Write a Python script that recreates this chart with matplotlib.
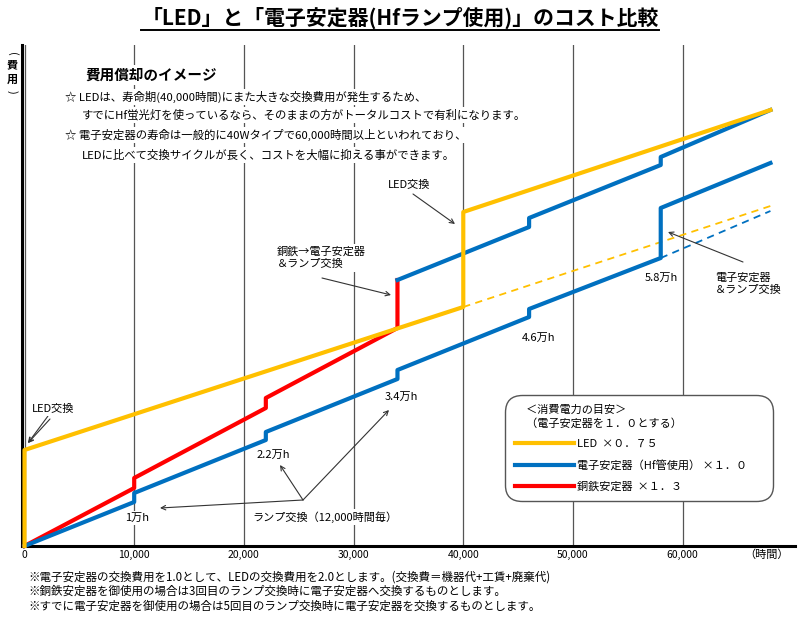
import matplotlib
matplotlib.use('Agg')
import matplotlib.pyplot as plt
from matplotlib.lines import Line2D

plt.rcParams['font.family'] = ['Noto Sans CJK JP', 'DejaVu Sans']

W, H = 800, 626

# operating hours vs. accumulated cost (relative units, no scale shown)
led_hours = [0, 0, 40000, 40000, 68000]
led_cost = [0, 96, 239, 334, 436]
led_cont_hours = [40000, 68000]
led_cont_cost = [239, 340]

hf_hours = [0, 10000, 10000, 22000, 22000, 34000, 34000, 46000, 46000, 58000, 58000, 68000]
hf_cost = [0, 44, 53, 106, 114, 167, 176, 229, 237, 288, 338, 383]
hf_cont_hours = [58000, 68000]
hf_cont_cost = [288, 335]

cu_hours = [0, 10000, 10000, 22000, 22000, 34000, 34000]
cu_cost = [0, 58, 68, 138, 148, 218, 266]
cu2hf_hours = [34000, 46000, 46000, 58000, 58000, 68000]
cu2hf_cost = [266, 319, 328, 381, 389, 436]

tick_hours = [0, 10000, 20000, 30000, 40000, 50000, 60000]
legend_labels = ['LED  ×０．７５', '電子安定器（Hf管使用） ×１．０', '銅鉄安定器  ×１．３']

c_led = '#FFC000'
c_hf = '#0070C0'
c_cu = '#FF0000'

fig = plt.figure(figsize=(W / 100, H / 100), dpi=100)
ax = fig.add_axes([22 / W, 80 / H, 773 / W, 501 / H])
ax.set_xlim(-228, 70240)
ax.set_ylim(0, 501)


def fp(x, y):
    # reference pixel position -> figure pixels
    return (x, H - y)


# dashed continuations first (behind)
ax.plot(led_cont_hours, led_cont_cost, color=c_led, lw=1.3, ls=(0, (4, 3)), zorder=3)
ax.plot(hf_cont_hours, hf_cont_cost, color=c_hf, lw=1.3, ls=(0, (4, 3)), zorder=3)

l_cu, = ax.plot(cu_hours, cu_cost, color=c_cu, lw=3, zorder=4, clip_on=False)
ax.plot(cu2hf_hours, cu2hf_cost, color=c_hf, lw=3, zorder=4, clip_on=False)
l_hf, = ax.plot(hf_hours, hf_cost, color=c_hf, lw=3, zorder=4, clip_on=False)
l_led, = ax.plot(led_hours, led_cost, color=c_led, lw=3, zorder=5, clip_on=False)

# axes styling
for s in ['top', 'right']:
    ax.spines[s].set_visible(False)
ax.spines['left'].set_linewidth(2.2)
ax.spines['bottom'].set_linewidth(2.2)
ax.set_yticks([])
ax.set_xticks(tick_hours)
ax.set_xticklabels([f'{v:,}' for v in tick_hours])
ax.tick_params(axis='x', length=0, pad=3, labelsize=7.5)
ax.grid(axis='x', color='#555555', lw=0.9)
ax.set_axisbelow(True)

fig.text(767 / W, 1 - 555 / H, '（時間）', fontsize=8, ha='center', va='center')
# vertical y label: （費用）
fig.text(12 / W, 1 - 54 / H, '(', fontsize=8, rotation=-90, ha='center', va='center')
fig.text(12 / W, 1 - 72 / H, '費\n用', fontsize=8, weight='bold',
         ha='center', va='center', linespacing=1.1)
fig.text(12 / W, 1 - 92 / H, ')', fontsize=8, rotation=-90, ha='center', va='center')

# title with underline
title = fig.text(0.5, 1 - 18 / H, '「LED」と「電子安定器(Hfランプ使用)」のコスト比較',
                 fontsize=15, weight='bold', ha='center', va='center')
fig.canvas.draw()
bb = title.get_window_extent()
fig.add_artist(Line2D([bb.x0 / W, bb.x1 / W], [(bb.y0 - 1) / H, (bb.y0 - 1) / H],
                      color='black', lw=1.4))

# explanation block
wbox = dict(facecolor='white', edgecolor='none', pad=1.5)
fig.text(85 / W, 1 - 75 / H, '費用償却のイメージ', fontsize=10.5, weight='bold',
         va='center', bbox=wbox, zorder=6)
block = [
    (65, 97, '☆ LEDは、寿命期(40,000時間)にまた大きな交換費用が発生するため、'),
    (82, 115, 'すでにHf蛍光灯を使っているなら、そのままの方がトータルコストで有利になります。'),
    (65, 135, '☆ 電子安定器の寿命は一般的に40Wタイプで60,000時間以上といわれており、'),
    (82, 155, 'LEDに比べて交換サイクルが長く、コストを大幅に抑える事ができます。'),
]
for x, y, t in block:
    fig.text(x / W, 1 - y / H, t, fontsize=8.2, va='center', bbox=wbox, zorder=6)

# annotations
arrow = dict(arrowstyle='->', color='#333333', lw=0.8, shrinkA=0, shrinkB=0)
tkw = dict(xycoords='figure pixels', textcoords='figure pixels', fontsize=8,
           va='center', zorder=7)

ax.annotate('LED交換', xy=fp(28, 443), xytext=fp(32, 409), arrowprops=arrow, bbox=wbox, **tkw)
ax.annotate('', xy=fp(28, 443), xytext=fp(50, 419), arrowprops=arrow, **tkw)

for x, y, t in [(125, 518, '1万h'), (257, 455, '2.2万h'), (385, 397, '3.4万h'),
                (522, 338, '4.6万h'), (645, 278, '5.8万h')]:
    fig.text(x / W, 1 - y / H, t, fontsize=8, va='center', bbox=wbox, zorder=6)

fig.text(252 / W, 1 - 517 / H, 'ランプ交換（12,000時間毎）', fontsize=8, va='center',
         bbox=wbox, zorder=6)
for tx, ty in [(160, 508), (280, 465), (389, 410)]:
    ax.annotate('', xy=fp(tx, ty), xytext=fp(303, 500), arrowprops=arrow, **tkw)

fig.text(277 / W, 1 - 258 / H, '銅鉄→電子安定器\n＆ランプ交換', fontsize=8, va='center',
         linespacing=1.3, bbox=wbox, zorder=6)
ax.annotate('', xy=fp(391, 295), xytext=fp(322, 278), arrowprops=arrow, **tkw)

fig.text(388 / W, 1 - 185 / H, 'LED交換', fontsize=8, va='center', bbox=wbox, zorder=6)
ax.annotate('', xy=fp(455, 224), xytext=fp(413, 194), arrowprops=arrow, **tkw)

fig.text(715 / W, 1 - 284 / H, '電子安定器\n＆ランプ交換', fontsize=8, va='center',
         linespacing=1.3, bbox=wbox, zorder=6)
ax.annotate('', xy=fp(668, 232), xytext=fp(743, 262), arrowprops=arrow, **tkw)

# legend
leg = ax.legend([l_led, l_hf, l_cu], legend_labels,
                title='　＜消費電力の目安＞\n　（電子安定器を１．０とする）',
                loc='upper left', bbox_to_anchor=(505 / W, 1 - 503 / H, 268 / W, 108 / H),
                bbox_transform=fig.transFigure, mode='expand', fontsize=8,
                title_fontsize=8, alignment='left', handlelength=5.3,
                handletextpad=0.3, labelspacing=0.95, borderpad=0.9,
                borderaxespad=0, fancybox=True, edgecolor='#555555', framealpha=1)
leg.get_frame().set_linewidth(1.0)
leg.get_frame().set_boxstyle('round,pad=0,rounding_size=1.5')
leg.get_title().set_linespacing(1.3)
leg.set_zorder(8)

# notes
notes = [
    '※電子安定器の交換費用を1.0として、LEDの交換費用を2.0とします。(交換費＝機器代+工賃+廃棄代)',
    '※銅鉄安定器を御使用の場合は3回目のランプ交換時に電子安定器へ交換するものとします。',
    '※すでに電子安定器を御使用の場合は5回目のランプ交換時に電子安定器を交換するものとします。',
]
for i, t in enumerate(notes):
    fig.text(28 / W, 1 - (577 + 14.5 * i) / H, t, fontsize=8.3, va='center')

plt.savefig('out.png', dpi=100, facecolor='white')
